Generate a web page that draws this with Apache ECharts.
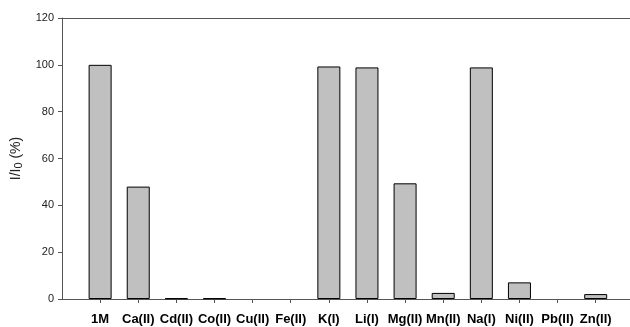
<!DOCTYPE html>
<html>
<head>
<meta charset="utf-8">
<script src="https://cdn.jsdelivr.net/npm/echarts@6/dist/echarts.min.js"></script>
<style>
  html, body { margin: 0; padding: 0; background: #fff; }
  #chart { width: 630px; height: 327px; }
</style>
</head>
<body>
<div id="chart"></div>
<script>
// Metal ions tested, relative intensity I/I0 in percent
const categories = ['1M', 'Ca(II)', 'Cd(II)', 'Co(II)', 'Cu(II)', 'Fe(II)', 'K(I)', 'Li(I)',
  'Mg(II)', 'Mn(II)', 'Na(I)', 'Ni(II)', 'Pb(II)', 'Zn(II)'];
const intensity = [100, 48, 0.3, 0.3, 0, 0, 99.3, 98.9, 49.4, 2.6, 98.9, 7.1, 0, 2.1];
const yTicks = [0, 20, 40, 60, 80, 100, 120];

// Bars sit at positions 1..n on a numeric x axis, leaving a blank slot on the left;
// the right end of the frame runs off the page.
// Zero readings get no outline so nothing shows on the baseline.
const barData = intensity.map((v, i) => ({
  value: [i + 1, v],
  itemStyle: v === 0 ? { borderWidth: 0, opacity: 0 } : undefined
}));

const font = 'Liberation Sans, Arial, sans-serif';
const axisColor = '#555';

const chart = echarts.init(document.getElementById('chart'));
chart.setOption({
  animation: false,
  grid: { left: 62, top: 18, bottom: 28, right: 0 },
  xAxis: [{
    type: 'value', min: 0, max: 14.9, interval: 1,
    splitLine: { show: false },
    axisLine: { show: true, lineStyle: { color: axisColor, width: 1 } },
    axisTick: {
      show: true, length: 4, inside: false, lineStyle: { color: axisColor },
      interval: (idx, val) => val >= 1 && val <= categories.length
    },
    axisLabel: {
      margin: 14,
      fontFamily: font, fontSize: 13, fontWeight: 'bold', color: '#000',
      showMinLabel: false, showMaxLabel: false,
      formatter: v => (v >= 1 && v <= categories.length) ? categories[v - 1] : ''
    }
  }, {
    // top edge of the frame
    type: 'value', position: 'top', min: 0, max: 14.9,
    splitLine: { show: false },
    axisLine: { show: true, lineStyle: { color: axisColor, width: 1 } },
    axisTick: { show: false },
    axisLabel: { show: false }
  }],
  yAxis: {
    type: 'value', min: yTicks[0], max: yTicks[yTicks.length - 1], interval: 20,
    splitLine: { show: false },
    axisLine: { show: true, lineStyle: { color: axisColor, width: 1 } },
    axisTick: { show: true, length: 4, lineStyle: { color: axisColor } },
    axisLabel: { margin: 8, fontFamily: font, fontSize: 11, color: '#222' },
    name: 'I/I{sub|0} (%)',
    nameLocation: 'middle', nameGap: 34, nameRotate: 90,
    nameTextStyle: {
      fontFamily: font, fontSize: 14, color: '#222',
      rich: {
        sub: { fontSize: 11, verticalAlign: 'bottom', padding: [7, 0, 0, 0],
               fontFamily: font, color: '#222' }
      }
    }
  },
  series: [{
    type: 'bar',
    xAxisIndex: 0,
    data: barData,
    barWidth: 23,
    itemStyle: { color: '#c0c0c0', borderColor: '#000', borderWidth: 1 }
  }]
});
</script>
</body>
</html>
